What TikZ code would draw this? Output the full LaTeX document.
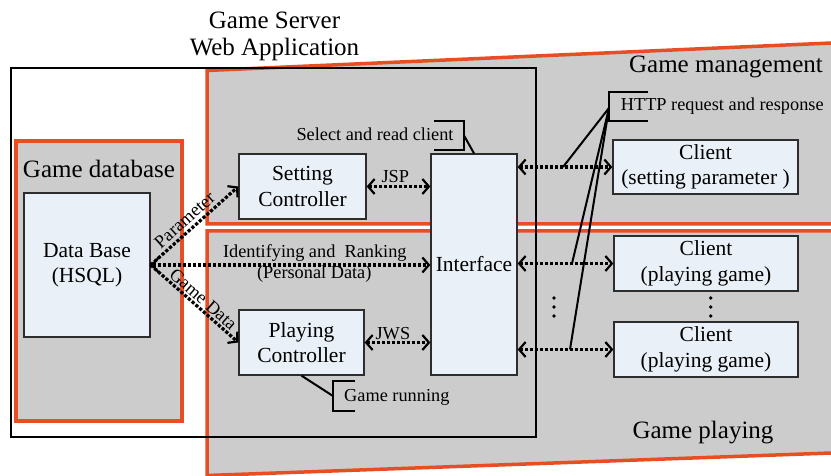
\documentclass[tikz,border=0pt]{standalone}
\usepackage{fontspec}
\setmainfont{Liberation Serif}
\usetikzlibrary{arrows.meta,calc}
\definecolor{org}{RGB}{232,78,36}
\definecolor{gry}{RGB}{204,204,204}
\definecolor{bxf}{RGB}{233,240,247}
\definecolor{bxd}{RGB}{45,45,45}
\tikzset{
  box/.style={draw=bxd, line width=1.3pt, fill=bxf, align=center, inner sep=0pt,
    font=\fontsize{21.5}{25.5}\selectfont},
  region/.style={draw=org, line width=3.5pt, fill=gry, line join=miter},
  big/.style={font=\fontsize{25}{27.5}\selectfont, inner sep=0pt},
  lab/.style={font=\fontsize{18.3}{21}\selectfont, inner sep=0pt},
  barb/.tip={Straight Barb[length=6.5pt,width=15pt,line width=2.2pt]},
  dar/.style={line width=3.2pt, dash pattern=on 3.2pt off 1.8pt, barb-barb},
  sar/.style={line width=3.2pt, dash pattern=on 3.2pt off 1.8pt, -barb},
  thk/.style={line width=2pt},
}
\begin{document}
\begin{tikzpicture}[x=1pt,y=-1pt]
\useasboundingbox (0,0) rectangle (831,476);
\clip (0,0) rectangle (831,476);
\fill[white] (0,0) rectangle (831,476);

% regions
\draw[region] (207,70.5) -- (845,42.4) -- (845,224) -- (207,224) -- cycle;
\draw[region] (207,231) -- (845,231) -- (845,452.5) -- (207,475.5) -- cycle;
\draw[region] (16,141) rectangle (182,421);
\draw[line width=2pt] (11,68) rectangle (536,437);

% titles
\node[big, anchor=base] (t1) at (274.5,28.3) {Game Server};
\node[big, anchor=base] (t2) at (274.5,55.6) {Web Application};
\node[big, anchor=base east] (gm) at (823,73) {Game management};
\node[big, anchor=base] (gp) at (703,438) {Game playing};
\node[big, anchor=base] (gd) at (99,178) {Game database};

% boxes
\node[box, minimum width=126pt, minimum height=144pt] (db) at (87,265) {Data Base\\(HSQL)};
\node[box, minimum width=127pt, minimum height=65pt] (sc) at (302.5,186.5) {Setting\\Controller};
\node[box, minimum width=125pt, minimum height=65pt] (pc) at (301.5,342.5) {Playing\\Controller};
\node[box, minimum width=86pt, minimum height=221pt] (iface) at (474,264.5) {Interface};
\node[box, minimum width=185pt, minimum height=54pt] (cs) at (705.5,167) {Client\\(setting parameter )};
\node[box, minimum width=184pt, minimum height=55pt] (cp1) at (706,263.5) {Client\\(playing game)};
\node[box, minimum width=184pt, minimum height=55pt] (cp2) at (706,349.5) {Client\\(playing game)};

% arrows
\draw[dar] (sc.east) -- node[lab, pos=0.45, anchor=base, yshift=4pt] (jsp) {JSP} (sc.east -| iface.west);
\draw[dar] (pc.east) -- node[lab, pos=0.43, anchor=base, yshift=3.5pt] (jws) {JWS} (pc.east -| iface.west);
\draw[dar] (db.east) -- node[lab, pos=0.587, anchor=base, yshift=7pt] (idr) {Identifying and\ \ Ranking}
  node[lab, pos=0.585, anchor=base, yshift=-14pt] (pdt) {(Personal Data)} (db.east -| iface.west);
\draw[sar] (db.east) -- node[lab, sloped, pos=0.47, anchor=base, yshift=5pt] (par) {Parameter} (sc.west);
\draw[sar] (db.east) -- node[lab, sloped, pos=0.53, anchor=base, yshift=3.5pt] (gdt) {Game Data} (pc.west);
\draw[dar] (cs.west -| iface.east) -- (cs.west);
\draw[dar] (cp1.west -| iface.east) -- (cp1.west);
\draw[dar] (cp2.west -| iface.east) -- (cp2.west);

% select and read client
\draw[thk] (434,121) -- (464,121) -- (464,150) -- (434,150);
\coordinate (selb) at (464,135.5);
\draw[thk] (selb) -- (iface.north);
\node[lab, anchor=base] (sel) at (375,141) {Select and read client};

% game running
\draw[thk] (355,381) -- (333,381) -- (333,411) -- (355,411);
\coordinate (grb) at (333,396);
\draw[thk] (pc.south) -- (grb);
\node[lab, anchor=base west] (gr) at (344,401.5) {Game running};

% HTTP
\draw[thk] (648,92) -- (609,92) -- (609,121) -- (648,121);
\coordinate (hb) at (609,108);
\coordinate (h1) at (563,167);
\coordinate (h2) at (572,263.5);
\coordinate (h3) at (570,349.5);
\draw[thk] (hb) -- (h1);
\draw[thk] (hb) -- (h2);
\draw[thk] (hb) -- (h3);
\node[lab, anchor=base west] (http) at (620.7,111) {HTTP request and response};

% dots
\foreach \yy in {298,307,316} {
  \fill (554,\yy) circle[radius=1.8pt];
  \fill (710.7,\yy) circle[radius=1.8pt];
}
\end{tikzpicture}
\end{document}
